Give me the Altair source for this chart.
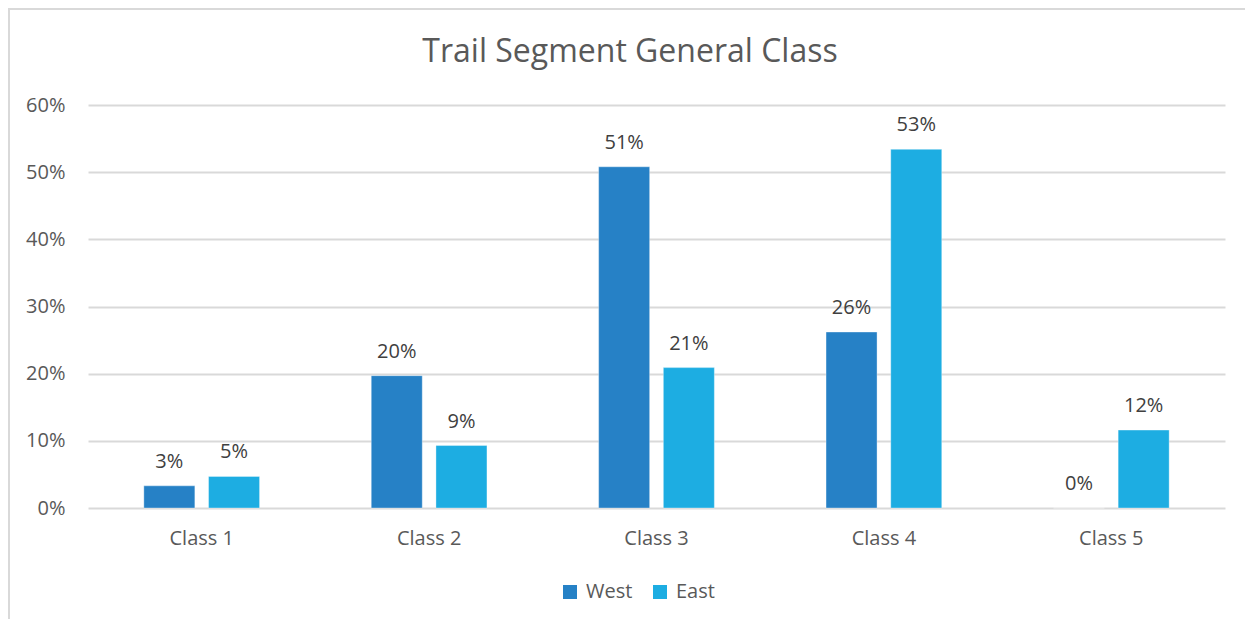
import altair as alt
import pandas as pd

categories = ["Class 1", "Class 2", "Class 3", "Class 4", "Class 5"]
series = ["West", "East"]
west = [0.033, 0.197, 0.508, 0.262, 0.0]
east = [0.047, 0.093, 0.209, 0.534, 0.116]
title_text = "Trail Segment General Class"

rows = []
for c, w, e in zip(categories, west, east):
    rows.append({"cls": c, "region": "West", "share": w})
    rows.append({"cls": c, "region": "East", "share": e})
df = pd.DataFrame(rows)

FONT = "Open Sans"
TXT = "#595959"
GRID = "#D9D9D9"
W, H = 1137, 403

x = alt.X("cls:N", sort=categories, title=None,
          scale=alt.Scale(paddingInner=0, paddingOuter=0),
          axis=alt.Axis(labelAngle=0, ticks=False, domain=False, labelPadding=20,
                        labelFontSize=20, labelColor=TXT, labelFont=FONT, grid=False))
xo = alt.XOffset("region:N", sort=series,
                 scale=alt.Scale(paddingInner=0.2117, paddingOuter=0.863))
y = alt.Y("share:Q", title=None,
          scale=alt.Scale(domain=[0, 0.6], nice=False),
          axis=alt.Axis(format=".0%", values=[0, 0.1, 0.2, 0.3, 0.4, 0.5, 0.6],
                        ticks=False, domain=False, labelPadding=23,
                        labelFontSize=20, labelColor=TXT, labelFont=FONT,
                        gridColor=GRID, gridWidth=2))
color = alt.Color("region:N", sort=series, title=None,
                  scale=alt.Scale(domain=series, range=["#2681C6", "#1DADE2"]),
                  legend=alt.Legend(orient="none", legendX=472, legendY=477,
                                    direction="horizontal", symbolType="square",
                                    symbolSize=196, symbolStrokeWidth=0,
                                    labelFontSize=20, labelColor=TXT, labelFont=FONT,
                                    labelOffset=6, columnPadding=17))

bars = alt.Chart(df).mark_bar(stroke="#ffffff", strokeOpacity=0.35, strokeWidth=1).encode(
    x=x, xOffset=xo, y=y, color=color)

labels = alt.Chart(df).mark_text(baseline="alphabetic", dy=-18, fontSize=20,
                                 font=FONT, color="#404040").encode(
    x=x, xOffset=xo, y=y, text=alt.Text("share:Q", format=".0%"))

one = pd.DataFrame({"t": [title_text]})
title = alt.Chart(one).mark_text(fontSize=32, font=FONT, color=TXT, align="center",
                                 baseline="alphabetic").encode(
    x=alt.value(630 - 88), y=alt.value(62 - 105), text="t:N")

top_line = alt.Chart(one).mark_rule(color=GRID, strokeWidth=2).encode(
    x=alt.value(-80), x2=alt.value(W + 20), y=alt.value(-96))
left_line = alt.Chart(one).mark_rule(color=GRID, strokeWidth=2).encode(
    x=alt.value(-79), y=alt.value(-96), y2=alt.value(H + 120))

chart = alt.layer(top_line, left_line, title, bars, labels).properties(
    width=W, height=H,
    autosize=alt.AutoSizeParams(type="none"),
    padding={"left": 80, "top": 97, "right": 20, "bottom": 111},
).configure(background="white").configure_view(stroke=None)

chart.save("out.html", embed_options={"renderer": "svg", "actions": False})
